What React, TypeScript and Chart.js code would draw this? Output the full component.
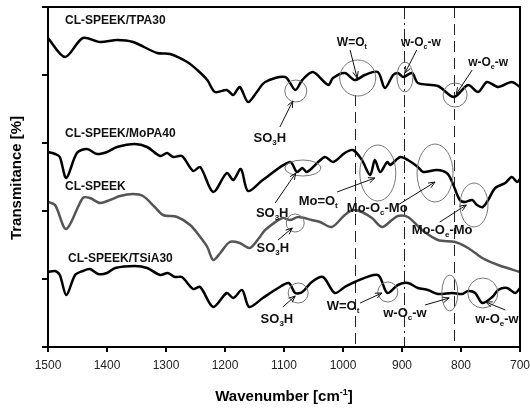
import React, { useEffect, useRef } from "react";
import { Chart, registerables } from "chart.js";
Chart.register(...registerables);

const FONT = "'Liberation Sans', Arial, sans-serif";

// wavenumber tick labels
const xTicks = [1500, 1400, 1300, 1200, 1100, 1000, 900, 800, 700];

// CL-SPEEK/TPA30
const tpa30Wn = [1500,1471,1441,1412,1383,1356,1315,1293,1264,1247,1230,1217,1197,1186,1175,1161,1146,1132,1098,1081,1069,1051,1025,1017,997,980,963,941,929,915,907,898,883,873,839,812,788,771,756,737,714,700];
const tpa30T = [309,290,309,305,307,305,294,293,285,277,267,255,257,252,260,245,255,265,270,257,267,275,262,269,274,267,272,275,259,272,274,270,274,264,261,250,262,255,265,260,265,260];

// CL-SPEEK/MoPA40
const mopa40Wn = [1500,1488,1480,1469,1451,1434,1417,1400,1383,1353,1332,1310,1298,1288,1273,1254,1242,1220,1197,1186,1173,1161,1136,1090,1078,1069,1061,1031,1017,997,983,968,954,946,937,925,920,903,890,873,864,841,824,815,802,793,781,773,763,754,742,725,714,705,700];
const mopa40T = [195,193,190,169,194,198,193,195,200,203,200,191,194,190,191,176,180,155,174,167,178,156,167,185,175,179,175,190,185,194,197,187,172,187,175,185,182,190,187,180,175,177,174,165,147,145,147,142,140,147,159,164,170,165,168];

// CL-SPEEK
const speekWn = [1500,1488,1469,1441,1429,1412,1395,1378,1356,1339,1319,1305,1281,1259,1242,1230,1220,1208,1192,1175,1158,1141,1132,1103,1090,1076,1053,1039,1019,997,983,968,951,934,917,907,890,866,839,810,788,764,737,700];
const speekT = [145,142,118,149,149,144,147,151,153,151,140,132,130,122,110,100,87,94,105,104,99,110,117,129,127,130,127,125,120,132,137,135,129,120,127,131,130,117,107,105,99,89,82,75];

// CL-SPEEK/TSiA30
const tsia30Wn = [1500,1488,1480,1469,1454,1441,1429,1415,1400,1386,1353,1332,1310,1297,1285,1273,1254,1242,1220,1197,1186,1171,1159,1136,1110,1092,1081,1069,1053,1034,1014,997,980,941,925,907,890,873,856,839,815,798,788,776,764,747,737,722,708,700];
const tsia30T = [75,76,72,52,72,76,78,73,74,79,81,79,72,74,70,70,58,60,40,54,49,57,40,49,59,64,54,55,65,70,54,60,65,72,54,62,64,59,57,53,54,53,56,54,44,50,57,59,54,59];

const seriesNames = ["CL-SPEEK/TPA30", "CL-SPEEK/MoPA40", "CL-SPEEK", "CL-SPEEK/TSiA30"];

// annotation geometry (data coordinates)
const refLines = [
  { w: 980, from: 252, dash: [11, 6] },
  { w: 897, from: 340, dash: [12, 4, 2, 4] },
  { w: 812, from: 340, dash: [11, 6] },
];
const rings = [
  { w: 1080, v: 256, rx: 11, ry: 11 },
  { w: 975, v: 269, rx: 18, ry: 18 },
  { w: 895, v: 270, rx: 8, ry: 15 },
  { w: 810, v: 252, rx: 12, ry: 12 },
  { w: 1068, v: 179, rx: 18, ry: 8 },
  { w: 941, v: 174, rx: 18, ry: 28 },
  { w: 844, v: 174, rx: 18, ry: 29 },
  { w: 778, v: 142, rx: 14, ry: 22 },
  { w: 1081, v: 124, rx: 9, ry: 9 },
  { w: 1076, v: 54, rx: 10, ry: 10 },
  { w: 924, v: 55, rx: 10, ry: 10 },
  { w: 819, v: 54, rx: 8, ry: 18 },
  { w: 763, v: 54, rx: 15, ry: 15 },
];
const arrows = [
  [1107, 220, 1085, 246],
  [988, 297, 976, 269],
  [875, 297, 895, 274],
  [781, 277, 808, 253],
  [1115, 144, 1080, 174],
  [1010, 155, 946, 169],
  [907, 142, 844, 165],
  [836, 125, 791, 142],
  [1110, 107, 1086, 119],
  [1102, 40, 1081, 51],
  [971, 44, 934, 54],
  [861, 42, 820, 49],
  [725, 37, 758, 45],
];
const notes = [
  { t: "SO_3H", w: 1124, v: 210, s: 13 },
  { t: "W=O_t", w: 985, v: 305, s: 12 },
  { t: "w-O_c-w", w: 868, v: 305, s: 12 },
  { t: "w-O_e-w", w: 754, v: 285, s: 12 },
  { t: "SO_3H", w: 1120, v: 135, s: 13 },
  { t: "Mo=O_t", w: 1042, v: 147, s: 13 },
  { t: "Mo-O_c-Mo", w: 942, v: 140, s: 13 },
  { t: "Mo-O_e-Mo", w: 832, v: 118, s: 13 },
  { t: "SO_3H", w: 1119, v: 100, s: 13 },
  { t: "SO_3H", w: 1112, v: 29, s: 13 },
  { t: "W=O_t", w: 1000, v: 42, s: 13 },
  { t: "w-O_c-w", w: 895, v: 35, s: 13 },
  { t: "w-O_e-w", w: 739, v: 29, s: 13 },
];
const nameSpots = [
  { w: 1471, v: 327 },
  { w: 1471, v: 214 },
  { w: 1471, v: 161 },
  { w: 1466, v: 89 },
];

type Seg = { t: string; m: number };
function parseRich(s: string): Seg[] {
  const segs: Seg[] = [];
  let buf = "";
  let i = 0;
  while (i < s.length) {
    const c = s[i];
    if (c === "_" || c === "^") {
      if (buf) { segs.push({ t: buf, m: 0 }); buf = ""; }
      let t = "";
      if (s[i + 1] === "{") {
        const j = s.indexOf("}", i);
        t = s.slice(i + 2, j);
        i = j + 1;
      } else {
        t = s[i + 1];
        i += 2;
      }
      segs.push({ t, m: c === "_" ? 1 : 2 });
    } else {
      buf += c;
      i++;
    }
  }
  if (buf) segs.push({ t: buf, m: 0 });
  return segs;
}

function drawRich(ctx: CanvasRenderingContext2D, s: string, x: number, y: number, size: number, align: string) {
  const segs = parseRich(s);
  const fMain = `bold ${size}px ${FONT}`;
  const fSmall = `bold ${Math.round(size * 0.62)}px ${FONT}`;
  let total = 0;
  const widths = segs.map((g) => {
    ctx.font = g.m ? fSmall : fMain;
    const w = ctx.measureText(g.t).width;
    total += w;
    return w;
  });
  let cx = align === "center" ? x - total / 2 : x;
  const base = y + size * 0.36;
  ctx.textAlign = "left";
  ctx.textBaseline = "alphabetic";
  segs.forEach((g, k) => {
    ctx.font = g.m ? fSmall : fMain;
    const by = g.m === 1 ? base + size * 0.25 : g.m === 2 ? base - size * 0.42 : base;
    ctx.fillText(g.t, cx, by);
    cx += widths[k];
  });
}

const decor = {
  id: "decor",
  beforeDatasetsDraw(chart: any) {
    const { ctx, scales } = chart;
    const xs = scales.x, ys = scales.y;
    ctx.save();
    ctx.strokeStyle = "#222";
    ctx.lineWidth = 1;
    refLines.forEach((l) => {
      const px = Math.round(xs.getPixelForValue(l.w)) + 0.5;
      ctx.setLineDash(l.dash);
      ctx.beginPath();
      ctx.moveTo(px, ys.getPixelForValue(l.from));
      ctx.lineTo(px, ys.getPixelForValue(0));
      ctx.stroke();
    });
    ctx.restore();
  },
  afterDatasetsDraw(chart: any) {
    const { ctx, scales, chartArea } = chart;
    const xs = scales.x, ys = scales.y;
    ctx.save();
    // rings
    ctx.strokeStyle = "#777";
    ctx.lineWidth = 1;
    rings.forEach((r) => {
      ctx.beginPath();
      ctx.ellipse(xs.getPixelForValue(r.w), ys.getPixelForValue(r.v), r.rx, r.ry, 0, 0, Math.PI * 2);
      ctx.stroke();
    });
    // arrows
    ctx.strokeStyle = "#111";
    ctx.lineWidth = 1;
    arrows.forEach((a) => {
      const x1 = xs.getPixelForValue(a[0]), y1 = ys.getPixelForValue(a[1]);
      const x2 = xs.getPixelForValue(a[2]), y2 = ys.getPixelForValue(a[3]);
      const ang = Math.atan2(y2 - y1, x2 - x1);
      ctx.beginPath();
      ctx.moveTo(x1, y1);
      ctx.lineTo(x2, y2);
      const hl = 7, ha = 0.4;
      ctx.moveTo(x2 - hl * Math.cos(ang - ha), y2 - hl * Math.sin(ang - ha));
      ctx.lineTo(x2, y2);
      ctx.lineTo(x2 - hl * Math.cos(ang + ha), y2 - hl * Math.sin(ang + ha));
      ctx.stroke();
    });
    // labels
    ctx.fillStyle = "#111";
    notes.forEach((n) => {
      drawRich(ctx, n.t, xs.getPixelForValue(n.w), ys.getPixelForValue(n.v), n.s, "center");
    });
    seriesNames.forEach((nm, k) => {
      const p = nameSpots[k];
      drawRich(ctx, nm, xs.getPixelForValue(p.w), ys.getPixelForValue(p.v), 12, "left");
    });
    // frame
    ctx.strokeStyle = "#000";
    ctx.lineWidth = 2;
    ctx.strokeRect(chartArea.left, chartArea.top, chartArea.right - chartArea.left, chartArea.bottom - chartArea.top);
    // axis titles
    ctx.fillStyle = "#000";
    drawRich(ctx, "Wavenumber [cm^{-1}]", (chartArea.left + chartArea.right) / 2, 396, 15, "center");
    ctx.translate(16, 178);
    ctx.rotate(-Math.PI / 2);
    drawRich(ctx, "Transmitance [%]", 0, 0, 15, "center");
    ctx.restore();
  },
};

function toPts(w: number[], t: number[]) {
  return w.map((x, i) => ({ x, y: t[i] }));
}

export default function App() {
  const ref = useRef<HTMLCanvasElement>(null);
  useEffect(() => {
    document.body.style.margin = "0";
    const line = (data: any, color: string, width: number) => ({
      data,
      borderColor: color,
      borderWidth: width,
      pointRadius: 0,
      tension: 0.3,
      fill: false,
    });
    const chart = new Chart(ref.current as HTMLCanvasElement, {
      type: "line",
      data: {
        datasets: [
          line(toPts(tpa30Wn, tpa30T), "#000", 2.5),
          line(toPts(mopa40Wn, mopa40T), "#000", 2.5),
          line(toPts(speekWn, speekT), "#555", 2.5),
          line(toPts(tsia30Wn, tsia30T), "#000", 2.5),
        ] as any,
      },
      options: {
        responsive: false,
        animation: false,
        layout: { padding: { top: 7, right: 10, left: 0, bottom: 0 } },
        plugins: { legend: { display: false }, tooltip: { enabled: false } },
        scales: {
          x: {
            type: "linear",
            reverse: true,
            min: 700,
            max: 1500,
            afterBuildTicks: (s: any) => {
              s.ticks = xTicks.map((v) => ({ value: v }));
            },
            ticks: {
              font: { family: FONT, size: 12 },
              color: "#222",
              padding: 6,
              maxRotation: 0,
              autoSkip: false,
              callback: (v: any) => String(v),
            },
            grid: { drawOnChartArea: false, drawTicks: true, tickLength: 5, color: "#000", lineWidth: 2 },
            border: { display: true, color: "#000", width: 2 },
            afterFit: (s: any) => {
              s.height = 63;
              s.paddingLeft = 0;
              s.paddingRight = 0;
            },
          },
          y: {
            type: "linear",
            min: 0,
            max: 340,
            ticks: { stepSize: 68, display: false },
            grid: { drawOnChartArea: false, drawTicks: true, tickLength: 6, color: "#000", lineWidth: 2 },
            border: { display: true, color: "#000", width: 2 },
            afterFit: (s: any) => {
              s.width = 48;
              s.paddingTop = 0;
              s.paddingBottom = 0;
            },
          },
        },
      } as any,
      plugins: [decor],
    });
    return () => chart.destroy();
  }, []);
  return (
    <div style={{ width: 530, height: 410 }}>
      <canvas ref={ref} width={530} height={410} style={{ display: "block" }} />
    </div>
  );
}
